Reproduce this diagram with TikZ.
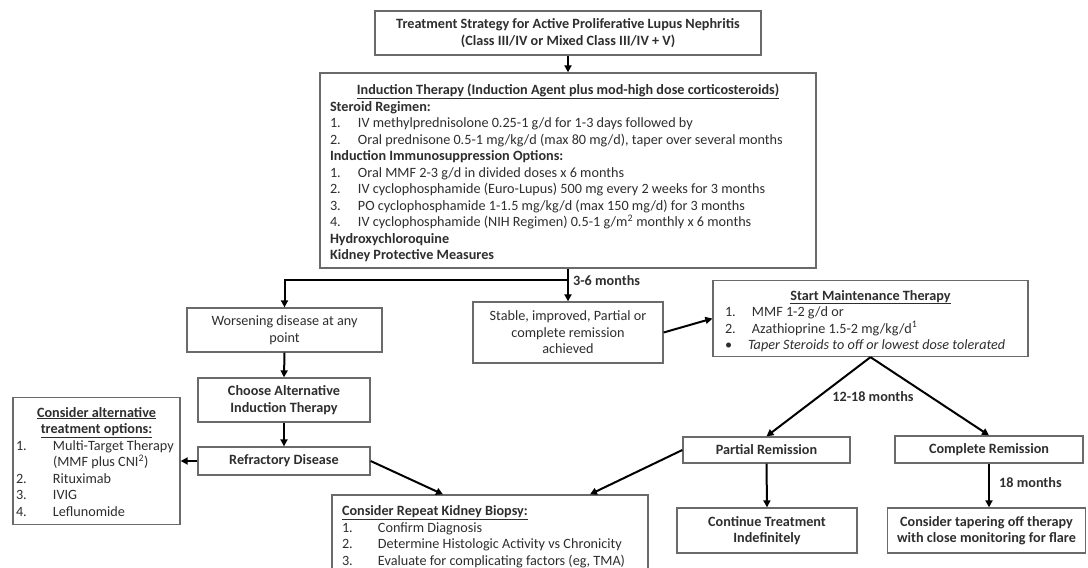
\documentclass[tikz,border=0pt]{standalone}
\usepackage{fontspec}
\setmainfont{Carlito}
\usetikzlibrary{arrows.meta}
\definecolor{boxc}{HTML}{6A6A6A}
\definecolor{txt}{HTML}{2E2E2E}
\newcommand\nitem[3]{\makebox[#1][l]{#2}#3\par}
\tikzset{
  box/.style={draw=boxc, line width=1.3pt, fill=white, inner sep=0pt, text=txt, align=center,
    font=\fontsize{14.2}{16.5}\selectfont},
  bbox/.style={box, font=\fontsize{14.2}{16.5}\selectfont\bfseries},
  arr/.style={draw=black, line width=2pt, -{Triangle[length=7pt,width=7pt]}},
  lbl/.style={font=\fontsize{14.2}{16}\selectfont\bfseries, text=txt, inner sep=1pt}
}
\begin{document}
\begin{tikzpicture}[x=1pt,y=-1pt]
\clip (0,0) rectangle (1088,568);
\useasboundingbox (0,0) rectangle (1088,568);
% title
\node[bbox, minimum width=386pt, minimum height=44pt] (title) at (568,33)
  {Treatment Strategy for Active Proliferative Lupus Nephritis\\(Class III/IV or Mixed Class III/IV + V)};
% induction
\node[box] (induct) at (568,170.5) {\parbox[c][195pt][t]{496pt}{\leftskip=10pt\parindent=0pt
  \rule{0pt}{21.5pt}\hspace*{-10pt}\makebox[496pt][c]{\bfseries\underline{Induction Therapy (Induction Agent plus mod-high dose corticosteroids)}}\par
  \textbf{Steroid Regimen:}\par
  \nitem{28pt}{1.}{IV methylprednisolone 0.25-1 g/d for 1-3 days followed by}
  \nitem{28pt}{2.}{Oral prednisone 0.5-1 mg/kg/d (max 80 mg/d), taper over several months}
  \textbf{Induction Immunosuppression Options:}\par
  \nitem{28pt}{1.}{Oral MMF 2-3 g/d in divided doses x 6 months}
  \nitem{28pt}{2.}{IV cyclophosphamide (Euro-Lupus) 500 mg every 2 weeks for 3 months}
  \nitem{28pt}{3.}{PO cyclophosphamide 1-1.5 mg/kg/d (max 150 mg/d) for 3 months}
  \nitem{28pt}{4.}{IV cyclophosphamide (NIH Regimen) 0.5-1 g/m\textsuperscript{2} monthly x 6 months}
  \textbf{Hydroxychloroquine}\par
  \textbf{Kidney Protective Measures}\par}};
% second row
\node[box, minimum width=195pt, minimum height=44pt] (worse) at (284.5,330)
  {Worsening disease at any\\point};
\node[box, minimum width=190pt, minimum height=61pt] (stable) at (568,332.5)
  {Stable, improved, Partial or\\complete remission\\achieved};
\node[box] (maint) at (870.5,318.5) {\parbox[c][76pt][t]{315pt}{\leftskip=12pt\parindent=0pt
  \rule{0pt}{19.5pt}\hspace*{-12pt}\makebox[315pt][c]{\bfseries\underline{Start Maintenance Therapy}}\par
  \nitem{27pt}{1.}{MMF 1-2 g/d or}
  \nitem{27pt}{2.}{Azathioprine 1.5-2 mg/kg/d\textsuperscript{1}}
  \nitem{23pt}{\textbullet}{\itshape Taper Steroids to off or lowest dose tolerated}}};
% left column
\node[bbox, minimum width=172pt, minimum height=44pt] (choose) at (284,400)
  {Choose Alternative\\Induction Therapy};
\node[bbox, minimum width=172pt, minimum height=28pt] (refr) at (284,461)
  {Refractory Disease};
\node[box] (alt) at (96.5,461) {\parbox[c][127pt][t]{167pt}{\leftskip=3pt\parindent=0pt
  \rule{0pt}{19.5pt}\hspace*{-3pt}\makebox[167pt][c]{\bfseries\underline{Consider alternative}}\par
  \hspace*{-3pt}\makebox[167pt][c]{\bfseries\underline{treatment options:}}\par
  \nitem{37pt}{1.}{Multi-Target Therapy}
  \hspace*{37pt}(MMF plus CNI\textsuperscript{2})\par
  \nitem{37pt}{2.}{Rituximab}
  \nitem{37pt}{3.}{IVIG}
  \nitem{37pt}{4.}{Leflunomide}}};
% biopsy
\node[box] (biopsy) at (490,542) {\parbox[c][94pt][t]{316pt}{\leftskip=10pt\parindent=0pt
  \rule{0pt}{20.5pt}\textbf{\underline{Consider Repeat Kidney Biopsy:}}\par
  \nitem{36pt}{1.}{Confirm Diagnosis}
  \nitem{36pt}{2.}{Determine Histologic Activity vs Chronicity}
  \nitem{36pt}{3.}{Evaluate for complicating factors (eg, TMA)}}};
% right column
\node[bbox, minimum width=167pt, minimum height=26pt] (partial) at (766.5,450) {Partial Remission};
\node[bbox, minimum width=188pt, minimum height=27pt] (complete) at (989,449.5) {Complete Remission};
\node[bbox, minimum width=180pt, minimum height=45pt] (cont) at (767,530.5) {Continue Treatment\\Indefinitely};
\node[bbox, minimum width=198pt, minimum height=45pt] (taper) at (986.5,530.5)
  {Consider tapering off therapy\\with close monitoring for flare};
% connectors
\coordinate (j) at (568,280);
\draw[arr] (title.south) -- (induct.north);
\draw[arr] (induct.south) -- (stable.north);
\draw[arr] (j) -| (worse.north);
\node[lbl, anchor=west] (l36) at (572,281) {3-6 months};
\draw[arr] (stable.east) -- (maint.west);
\draw[arr] (maint.south) -- (partial.north);
\draw[arr] (maint.south) -- (complete.north);
\node[lbl] (l1218) at (873,397) {12-18 months};
\draw[arr] (partial.south) -- (cont.north);
\draw[arr] (complete.south) -- (complete.south |- taper.north);
\node[lbl, anchor=west] (l18) at (998,483) {18 months};
\draw[arr] (worse.south) -- (choose.north);
\draw[arr] (choose.south) -- (refr.north);
\draw[arr] (refr.west) -- (alt.east);
\draw[arr] (refr.east) -- ([xshift=-47pt]biopsy.north);
\draw[arr] (partial.west) -- ([xshift=100pt]biopsy.north);
\end{tikzpicture}
\end{document}
